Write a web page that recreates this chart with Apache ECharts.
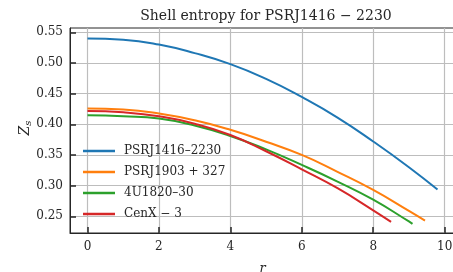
<!DOCTYPE html>
<html>
<head>
<meta charset="utf-8">
<script src="https://cdn.jsdelivr.net/npm/echarts@6/dist/echarts.min.js"></script>
<style>
  html, body { margin: 0; padding: 0; background: #fff; }
  #main { width: 453px; height: 272px; }
</style>
</head>
<body>
<div id="main"></div>
<script>
// values
var seriesNames = ['PSRJ1416–2230', 'PSRJ1903 + 327', '4U1820–30', 'CenX − 3'];
var rBlue = [0, 1, 2, 3, 4, 5, 6, 7, 8, 9, 9.8];
var zBlue = [0.540, 0.538, 0.530, 0.516, 0.498, 0.474, 0.4445, 0.411, 0.372, 0.330, 0.2935];
var rOrange = [0, 1, 2, 3, 4, 5, 6, 7, 8, 9, 9.45];
var zOrange = [0.4257, 0.424, 0.4175, 0.4065, 0.391, 0.3716, 0.350, 0.3225, 0.293, 0.2588, 0.243];
var rGreen = [0, 1, 2, 3, 4, 5, 6, 7, 8, 9, 9.1];
var zGreen = [0.4147, 0.413, 0.4093, 0.398, 0.381, 0.359, 0.3337, 0.3066, 0.277, 0.2415, 0.2376];
var rRed = [0, 1, 2, 3, 4, 5, 6, 7, 8, 8.5];
var zRed = [0.4217, 0.4195, 0.413, 0.401, 0.3825, 0.356, 0.3265, 0.2957, 0.2597, 0.2408];
var xTicks = [0, 2, 4, 6, 8, 10];
var yTicks = [0.25, 0.30, 0.35, 0.40, 0.45, 0.50, 0.55];

var colors = ['#1f77b4', '#ff7f0e', '#2ca02c', '#d62728'];
var font = 'DejaVu Serif';

function pairs(xs, ys) {
  return xs.map(function (x, i) { return [x, ys[i]]; });
}

var myChart = echarts.init(document.getElementById('main'), null, { renderer: 'canvas' });

var axisCommon = {
  type: 'value',
  axisLine: { show: true, onZero: false, lineStyle: { color: '#262626', width: 1 } },
  axisTick: { show: true, inside: true, length: 6, lineStyle: { color: '#262626', width: 1.5 } },
  splitLine: { show: true, lineStyle: { color: '#bdbdbd', width: 1.2 } },
  axisLabel: { color: '#262626', fontFamily: font, fontSize: 12 }
};

var option = {
  animation: false,
  color: colors,
  title: {
    text: 'Shell entropy for PSRJ1416 − 2230',
    left: 261,
    textAlign: 'center',
    top: 4,
    textStyle: { fontFamily: font, fontSize: 14, fontWeight: 'normal', color: '#262626' }
  },
  grid: {
    left: 70, right: -2, top: 28, bottom: 39,
    containLabel: false,
    outerBoundsMode: 'none',
    show: true, borderColor: '#262626', borderWidth: 1, backgroundColor: 'transparent'
  },
  // y axis title, placed like the reference
  graphic: [{
    type: 'text',
    x: 25,
    y: 128,
    rotation: Math.PI / 2,
    style: {
      text: '{z|Z}{s|s}',
      align: 'center',
      verticalAlign: 'middle',
      rich: {
        z: { fontFamily: font, fontStyle: 'italic', fontSize: 14, fill: '#262626' },
        s: { fontFamily: font, fontStyle: 'italic', fontSize: 10, fill: '#262626', padding: [6, 0, 0, 0] }
      }
    }
  }],
  legend: {
    orient: 'vertical',
    left: 78,
    top: 140,
    itemGap: 9,
    itemWidth: 32,
    itemHeight: 2.5,
    icon: 'rect',
    textStyle: { fontFamily: font, fontSize: 12, color: '#262626', padding: [0, 0, 0, 4] },
    data: seriesNames
  },
  xAxis: Object.assign({}, axisCommon, {
    min: -0.49,
    max: 10.29,
    name: 'r',
    nameLocation: 'middle',
    nameGap: 29,
    nameTextStyle: { fontFamily: font, fontStyle: 'italic', fontSize: 13, color: '#262626' },
    axisTick: Object.assign({}, axisCommon.axisTick, { customValues: xTicks }),
    axisLabel: Object.assign({}, axisCommon.axisLabel, { customValues: xTicks, margin: 8 })
  }),
  yAxis: Object.assign({}, axisCommon, {
    min: 0.2227,
    max: 0.557,
    axisTick: Object.assign({}, axisCommon.axisTick, { customValues: yTicks }),
    axisLabel: Object.assign({}, axisCommon.axisLabel, {
      customValues: yTicks,
      margin: 7,
      formatter: function (v) { return v.toFixed(2); }
    })
  }),
  series: [
    { name: seriesNames[0], data: pairs(rBlue, zBlue) },
    { name: seriesNames[1], data: pairs(rOrange, zOrange) },
    { name: seriesNames[2], data: pairs(rGreen, zGreen) },
    { name: seriesNames[3], data: pairs(rRed, zRed) }
  ].map(function (s) {
    return Object.assign({
      type: 'line',
      smooth: true,
      showSymbol: false,
      lineStyle: { width: 2 }
    }, s);
  })
};

myChart.setOption(option);
</script>
</body>
</html>
